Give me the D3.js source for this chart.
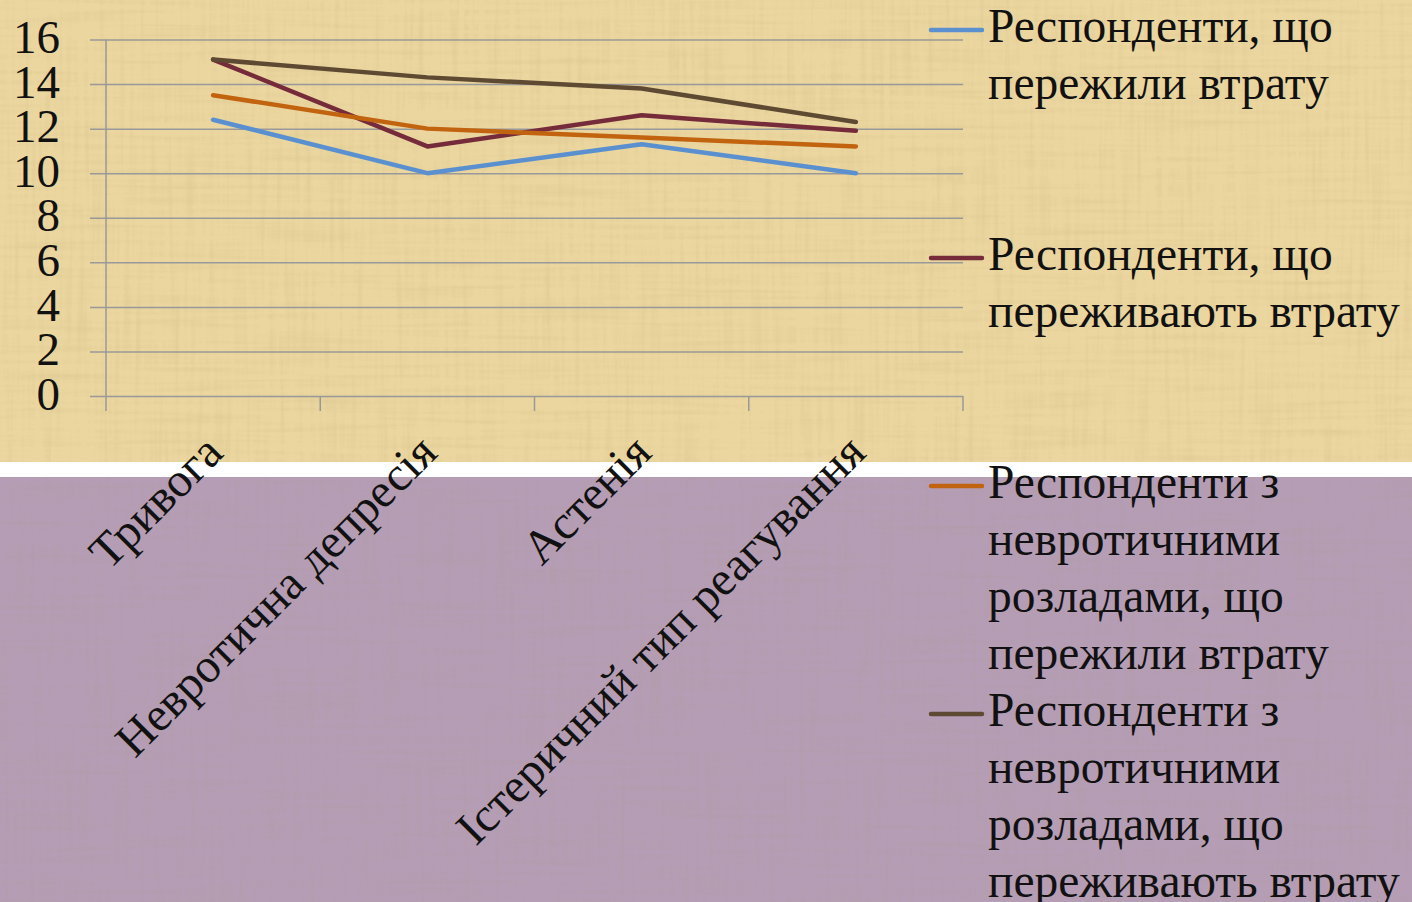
<!DOCTYPE html>
<html>
<head>
<meta charset="utf-8">
<script src="https://cdn.jsdelivr.net/npm/d3@7"></script>
<style>
  body { margin: 0; background: #ffffff; }
  svg { display: block; }
  .tick text { font-family: "Liberation Serif", "Times New Roman", serif; fill: #111; }
</style>
</head>
<body>
<div id="chart"></div>
<script>
// chart data
var categories = ["Тривога", "Невротична депресія", "Астенія", "Істеричний тип реагування"];
var lostBefore = [12.4, 10.0, 11.3, 10.0];
var losingNow = [15.1, 11.2, 12.6, 11.9];
var neuroticLostBefore = [13.5, 12.0, 11.6, 11.2];
var neuroticLosingNow = [15.1, 14.3, 13.8, 12.3];
var yTicks = [0, 2, 4, 6, 8, 10, 12, 14, 16];
var seriesNames = [
    ["Респонденти, що", "пережили втрату"],
    ["Респонденти, що", "переживають втрату"],
    ["Респонденти з", "невротичними", "розладами, що", "пережили втрату"],
    ["Респонденти з", "невротичними", "розладами, що", "переживають втрату"]
];
var seriesColors = ["#5a90d0", "#762b3b", "#c2630f", "#5e4a33"];

var svgWidth = 1412;
var svgHeight = 902;

// plot area
var plot = { left: 106, right: 963, top: 39.5, bottom: 396 };

var svg = d3.select("#chart")
    .append("svg")
    .attr("width", svgWidth)
    .attr("height", svgHeight);

// backgrounds: papyrus on top, white strip, purple below
var defs = svg.append("defs");
var f = defs.append("filter").attr("id", "grain").attr("x", 0).attr("y", 0).attr("width", 1).attr("height", 1);
f.append("feTurbulence").attr("type", "fractalNoise").attr("baseFrequency", "0.008 0.2").attr("numOctaves", 2).attr("seed", 3).attr("result", "n1");
f.append("feTurbulence").attr("type", "fractalNoise").attr("baseFrequency", "0.2 0.008").attr("numOctaves", 2).attr("seed", 7).attr("result", "n2");
f.append("feBlend").attr("in", "n1").attr("in2", "n2").attr("mode", "multiply").attr("result", "n");
f.append("feColorMatrix").attr("in", "n").attr("type", "matrix")
    .attr("values", "0 0 0 0 0.4  0 0 0 0 0.3  0 0 0 0 0.12  -0.7 0 0 0 0.33");

svg.append("rect").attr("x", 0).attr("y", 0).attr("width", svgWidth).attr("height", 462).attr("fill", "#ebd6a0");
svg.append("rect").attr("x", 0).attr("y", 0).attr("width", svgWidth).attr("height", 462).attr("filter", "url(#grain)").attr("opacity", 0.6);
svg.append("rect").attr("x", 0).attr("y", 477).attr("width", svgWidth).attr("height", svgHeight - 477).attr("fill", "#b59db5");
svg.append("rect").attr("x", 0).attr("y", 477).attr("width", svgWidth).attr("height", svgHeight - 477).attr("filter", "url(#grain)").attr("opacity", 0.4);

var xScale = d3.scaleBand()
    .domain(categories)
    .range([plot.left, plot.right])
    .padding(0);

var yScale = d3.scaleLinear()
    .domain([0, 16])
    .range([plot.bottom, plot.top]);

// gridlines + y labels (axis hung from the right edge so ticks reach the left tick marks)
var yAxis = svg.append("g")
    .attr("transform", `translate(${plot.right}, 0)`)
    .call(d3.axisLeft(yScale)
        .tickValues(yTicks)
        .tickSize(plot.right - 90)
        .tickPadding(30)
        .tickFormat(d3.format("d")));
yAxis.select(".domain").remove();
yAxis.selectAll(".tick line").attr("stroke", "#999999").attr("stroke-width", 1.5);
yAxis.selectAll(".tick text")
    .attr("font-size", 47)
    .attr("dy", "0.28em");

// vertical axis line
svg.append("line")
    .attr("x1", plot.left).attr("x2", plot.left)
    .attr("y1", plot.top).attr("y2", plot.bottom + 15)
    .attr("stroke", "#999999").attr("stroke-width", 1.5);

// category tick marks between categories
var xTickPos = categories.slice(1).map(c => xScale(c)).concat([plot.right]);
svg.append("g").selectAll("line")
    .data(xTickPos)
    .enter()
    .append("line")
    .attr("x1", d => d).attr("x2", d => d)
    .attr("y1", plot.bottom).attr("y2", plot.bottom + 15)
    .attr("stroke", "#999999").attr("stroke-width", 1.5);

// category labels, rotated
svg.append("g").selectAll("text")
    .data(categories)
    .enter()
    .append("text")
    .attr("transform", d => `translate(${xScale(d) + xScale.bandwidth() / 2 + 12}, 455) rotate(-45)`)
    .attr("text-anchor", "end")
    .attr("font-family", "Liberation Serif, Times New Roman, serif")
    .attr("font-size", 48)
    .attr("fill", "#111")
    .text(d => d);

// lines
var allSeries = [lostBefore, losingNow, neuroticLostBefore, neuroticLosingNow];
var line = d3.line()
    .x((d, i) => xScale(categories[i]) + xScale.bandwidth() / 2)
    .y(d => yScale(d));

svg.append("g").selectAll("path")
    .data(allSeries)
    .enter()
    .append("path")
    .attr("d", d => line(d))
    .attr("fill", "none")
    .attr("stroke", (d, i) => seriesColors[i])
    .attr("stroke-width", 4.5)
    .attr("stroke-linejoin", "round")
    .attr("stroke-linecap", "round");

// legend
var lineGap = 57;
var legendTop = 42;
var legend = svg.append("g");
seriesNames.forEach(function (lines, i) {
    var base = legendTop + i * 4 * lineGap;
    legend.append("line")
        .attr("x1", 931).attr("x2", 982)
        .attr("y1", base - 12).attr("y2", base - 12)
        .attr("stroke", seriesColors[i])
        .attr("stroke-width", 4.5)
        .attr("stroke-linecap", "round");
    var t = legend.append("text")
        .attr("x", 988)
        .attr("y", base)
        .attr("font-family", "Liberation Serif, Times New Roman, serif")
        .attr("font-size", 47.5)
        .attr("fill", "#111");
    lines.forEach(function (s, j) {
        t.append("tspan")
            .attr("x", 988)
            .attr("y", base + j * lineGap)
            .text(s);
    });
});
</script>
</body>
</html>
